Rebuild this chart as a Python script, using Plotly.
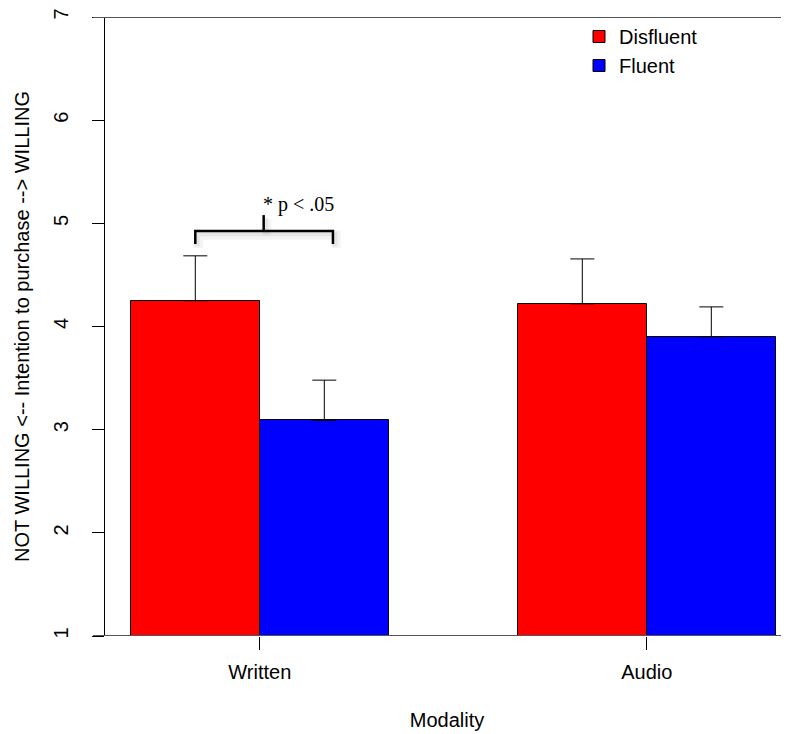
import plotly.graph_objects as go

# ---- data ----
modalities = ["Written", "Audio"]
conditions = ["Disfluent", "Fluent"]
means_disfluent = [4.25, 4.22]
means_fluent = [3.09, 3.90]
upper_disfluent = [4.685, 4.655]
upper_fluent = [3.48, 4.19]
y_ticks = [1, 2, 3, 4, 5, 6, 7]
sig_label = "* p < .05"
colors = {"Disfluent": "#ff0000", "Fluent": "#0000ff"}

# R-style barplot positions (beside=TRUE, space=c(0,1))
group_centers = [2, 5]
pos_disfluent = [c - 0.5 for c in group_centers]
pos_fluent = [c + 0.5 for c in group_centers]

# page has an 8px body margin, so the figure is sized to fit the window
W, H = 781, 726
ml, mr, mt, mb = 97, 0, 6, 98
px_per_unit = 129.0
x_lo = 0.8
x_hi = x_lo + (W - ml - mr) / px_per_unit

FONT = "Liberation Sans, Arial, sans-serif"
FS = 20

fig = go.Figure()
for name, pos, means, upper in [
    ("Disfluent", pos_disfluent, means_disfluent, upper_disfluent),
    ("Fluent", pos_fluent, means_fluent, upper_fluent),
]:
    fig.add_trace(go.Bar(
        x=pos, y=means, width=1.0, name=name,
        marker=dict(color=colors[name], line=dict(color="black", width=1)),
        error_y=dict(type="data", symmetric=False,
                     array=[u - m for u, m in zip(upper, means)],
                     arrayminus=[0 for _ in means],
                     color="black", thickness=1, width=12),
    ))

# invisible trace so the label-only axis (y2) is drawn
fig.add_trace(go.Scatter(x=[group_centers[0]], y=[y_ticks[0]], yaxis="y2",
                         mode="markers", marker=dict(opacity=0), showlegend=False,
                         hoverinfo="skip"))

# gray horizontal frame lines at y=1 and y=7 (start left of the axis, run to the edge)
left_paper = -12 / (W - ml - mr)
for yv in [y_ticks[0], y_ticks[-1]]:
    fig.add_shape(type="line", xref="paper", yref="y", x0=left_paper, x1=1,
                  y0=yv, y1=yv, line=dict(color="#555555", width=2), layer="above")

# significance bracket (with a soft shadow)
br_x0, br_x1, br_xm = pos_disfluent[0], 2.567, 2.03
br_y, br_leg, br_top = 4.925, 4.80, 5.08
def bracket(dx, dy, color, width, opacity):
    path = (f"M {br_x0+dx},{br_leg+dy} L {br_x0+dx},{br_y+dy} L {br_x1+dx},{br_y+dy} "
            f"L {br_x1+dx},{br_leg+dy}")
    fig.add_shape(type="path", xref="x", yref="y", path=path,
                  line=dict(color=color, width=width), opacity=opacity, layer="above")
    fig.add_shape(type="line", xref="x", yref="y", x0=br_xm+dx, x1=br_xm+dx,
                  y0=br_y+dy, y1=br_top+dy, line=dict(color=color, width=width),
                  opacity=opacity, layer="above")
bracket(0.025, -0.04, "#aaaaaa", 9, 0.12)
bracket(0.015, -0.025, "#999999", 5, 0.15)
bracket(0, 0, "black", 2.5, 1)

fig.add_annotation(x=2.3, y=5.18, xref="x", yref="y", text=sig_label, showarrow=False,
                   font=dict(family="Liberation Serif, Times New Roman, serif", size=20,
                             color="black"))

fig.update_layout(
    width=W, height=H,
    margin=dict(l=ml, r=mr, t=mt, b=mb),
    plot_bgcolor="white", paper_bgcolor="white",
    font=dict(family=FONT, size=FS, color="black"),
    bargap=0, showlegend=True,
    legend=dict(x=0.693, y=1.0, xanchor="left", yanchor="top",
                bgcolor="rgba(0,0,0,0)", font=dict(family=FONT, size=FS),
                tracegroupgap=0),
    xaxis=dict(range=[x_lo, x_hi], tickmode="array", tickvals=group_centers,
               ticktext=modalities, ticks="outside", ticklen=13, tickcolor="black",
               tickfont=dict(family=FONT, size=FS), ticklabelstandoff=5,
               showgrid=False, zeroline=False, showline=False,
               title=dict(text="Modality", standoff=30, font=dict(family=FONT, size=FS))),
    # visible axis line and tick marks
    yaxis=dict(range=[y_ticks[0], y_ticks[-1]], tickvals=y_ticks,
               ticks="outside", ticklen=12, tickcolor="black",
               showticklabels=False,
               showline=True, linecolor="black", linewidth=1,
               showgrid=False, zeroline=False),
    # tick labels (rotated, further from the axis) and the axis title
    yaxis2=dict(range=[y_ticks[0], y_ticks[-1]], tickvals=y_ticks, tickangle=-90,
                overlaying="y", side="left", anchor="x",
                ticks="outside", ticklen=28, tickcolor="rgba(0,0,0,0)",
                tickfont=dict(family=FONT, size=FS), ticklabeloverflow="allow",
                showline=False, showgrid=False, zeroline=False,
                title=dict(text="NOT WILLING <-- Intention to purchase --> WILLING",
                           standoff=15, font=dict(family=FONT, size=FS))),
)

fig.write_html("out.html")
